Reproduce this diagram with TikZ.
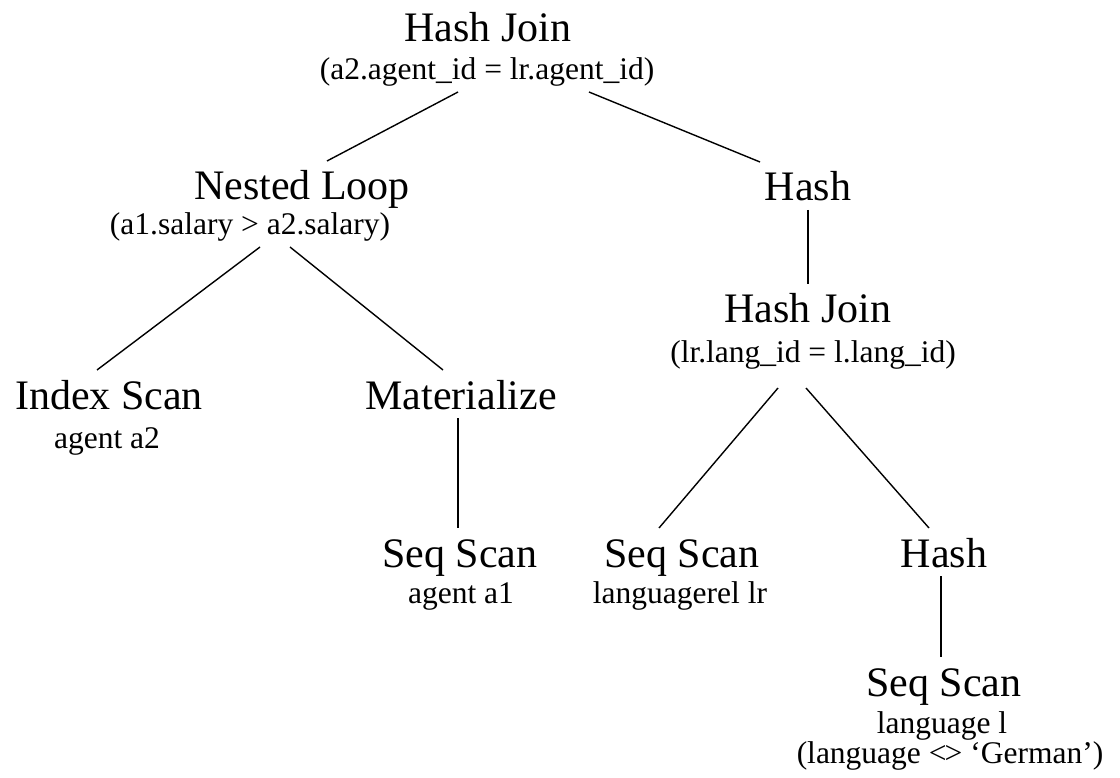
\documentclass[tikz,border=0pt]{standalone}
\usepackage{fontspec}
\setmainfont{Liberation Serif}
\usepackage{tikz}

\begin{document}
\begin{tikzpicture}[x=1pt, y=-1pt]
	\useasboundingbox (0,0) rectangle (1120,778);
	\begin{scope}[every node/.style={anchor=base, inner sep=0pt, outer sep=0pt,
	              text height=39pt, text depth=9pt, font=\fontsize{42}{48}\selectfont}]
		\node (hashjoin) at (488,42) {Hash Join};
		\node (nested) at (302,200) {Nested Loop};
		\node (hash) at (808,201) {Hash};
		\node (hashjoin2) at (808,323) {Hash Join};
		\node (index) at (109,409) {Index Scan};
		\node (mat) at (461,409) {Materialize};
		\node (seqa1) at (460,567) {Seq Scan};
		\node (seqlr) at (682,567) {Seq Scan};
		\node (hash2) at (944,567) {Hash};
		\node (seql) at (944,696) {Seq Scan};
	\end{scope}
	
	\begin{scope}[every node/.style={anchor=base, inner sep=0pt, outer sep=0pt,
	              text height=25pt, text depth=12pt, font=\fontsize{31.5}{36}\selectfont}]
		\node (hjcond) at (487,80) {(a2.agent\_id = lr.agent\_id)};
		\node (nlcond) at (250,235) {(a1.salary > a2.salary)};
		\node (hj2cond) at (813,362) {(lr.lang\_id = l.lang\_id)};
		\node (indexrel) at (107,448) {agent a2};
		\node (seqa1rel) at (461,603) {agent a1};
		\node (seqlrrel) at (680,603) {languagerel lr};
		\node (seqlrel) at (942,733) {language l};
		\node (seqlcond) at (950,763) {(language <\kern-0.06em> ‘German’)};
	\end{scope}
	
	\begin{scope}[every edge/.style={draw=black, line width=1.4pt}]
		\path ([xshift=-29pt]hjcond.south) edge ([xshift=25pt]nested.north);
		\path ([xshift=102pt]hjcond.south) edge ([xshift=-48pt]hash.north);
		\path ([xshift=10pt]nlcond.south) edge ([xshift=-12pt]index.north);
		\path ([xshift=40pt]nlcond.south) edge ([xshift=-18pt]mat.north);
		\path (hash.south) edge (hashjoin2.north);
		\path ([xshift=-3pt]mat.south) edge ([xshift=-2pt]seqa1.north);
		\path ([xshift=-35pt,yshift=-14pt]hj2cond.south) edge ([xshift=-23pt]seqlr.north);
		\path ([xshift=-7pt,yshift=-14pt]hj2cond.south) edge ([xshift=-15pt]hash2.north);
		\path ([xshift=-3pt]hash2.south) edge ([xshift=-3pt]seql.north);
	\end{scope}
\end{tikzpicture}
\end{document}
